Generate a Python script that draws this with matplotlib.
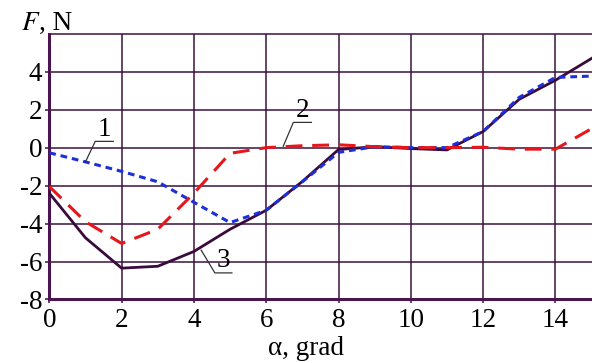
import matplotlib
matplotlib.use("Agg")
import matplotlib.pyplot as plt

# Force F (N) versus angle alpha (grad) for three cases
alpha = [0, 1, 2, 3, 4, 5, 6, 7, 8, 9, 10, 11, 12, 13, 14, 15]
force_1 = [-0.27, -0.75, -1.25, -1.8, -2.88, -3.95, -3.3, -1.8, -0.25, 0.05, 0.0, 0.0, 0.85, 2.65, 3.7, 3.77]
force_2 = [-2.05, -3.9, -5.05, -4.3, -2.4, -0.3, 0.0, 0.1, 0.15, 0.05, 0.0, 0.0, 0.02, -0.08, -0.08, 1.0]
force_3 = [-2.4, -4.75, -6.35, -6.25, -5.47, -4.3, -3.3, -1.78, -0.1, 0.05, -0.05, -0.12, 0.85, 2.55, 3.55, 4.7]

x_ticks = [0, 2, 4, 6, 8, 10, 12, 14]
y_ticks = [-8, -6, -4, -2, 0, 2, 4]

grid_col = "#3a1240"
frame_col = "#4a1450"
serif = ["Liberation Serif", "DejaVu Serif"]
fs = 19.5

fig = plt.figure(figsize=(5.92, 3.63), dpi=100)
ax = fig.add_axes([0.0833, 0.175, 0.916, 0.732])

ax.set_xlim(0, 15)
ax.set_ylim(-8, 6)
ax.set_xticks(x_ticks)
ax.set_yticks(y_ticks)
ax.set_xticklabels([str(v) for v in x_ticks], family=serif, fontsize=fs)
ax.set_yticklabels([str(v) for v in y_ticks], family=serif, fontsize=fs)
ax.tick_params(axis="both", direction="out", length=3, width=1.1, color=grid_col, pad=2)
ax.tick_params(axis="x", pad=3)

ax.grid(True, color=grid_col, linewidth=1.1)
ax.axhline(6, color=grid_col, linewidth=1.1, clip_on=False)
ax.set_axisbelow(True)

ax.spines["right"].set_visible(False)
ax.spines["top"].set_visible(False)
ax.spines["left"].set_color(frame_col)
ax.spines["bottom"].set_color(frame_col)
ax.spines["left"].set_linewidth(2.2)
ax.spines["bottom"].set_linewidth(2.2)

ax.plot(alpha, force_3, color="#3a0a3c", linewidth=2.0, solid_joinstyle="miter", zorder=3)
ax.plot(alpha, force_1, color="#1c2fd8", linewidth=2.2, linestyle=(0, (2.2, 1.6)), zorder=4)
ax.plot(alpha, force_2, color="#e5161c", linewidth=2.2, linestyle=(0, (5.5, 3.2)), zorder=4)

# curve number labels with leader lines
leader = dict(color="#333333", linewidth=0.9, zorder=5)
ax.plot([1.0, 1.27, 1.77], [-0.75, 0.33, 0.33], **leader)
ax.text(1.52, 0.3, "1", family=serif, fontsize=fs, ha="center", va="bottom", zorder=6)
ax.plot([6.47, 6.75, 7.25], [0.07, 1.33, 1.33], **leader)
ax.text(7.0, 1.3, "2", family=serif, fontsize=fs, ha="center", va="bottom", zorder=6)
ax.plot([4.2, 4.58, 5.05], [-5.4, -6.6, -6.6], **leader)
ax.text(4.82, -6.6, "3", family=serif, fontsize=fs, ha="center", va="bottom", zorder=6)

fig.text(0.036, 0.936, "$F$", family=serif, fontsize=fs, ha="left", va="center",
         math_fontfamily="stix")
fig.text(0.066, 0.936, ", N", family=serif, fontsize=fs, ha="left", va="center")
fig.text(0.517, 0.04, "α, grad", family=serif, fontsize=fs, ha="center", va="center")

fig.savefig("out.png", dpi=100)
